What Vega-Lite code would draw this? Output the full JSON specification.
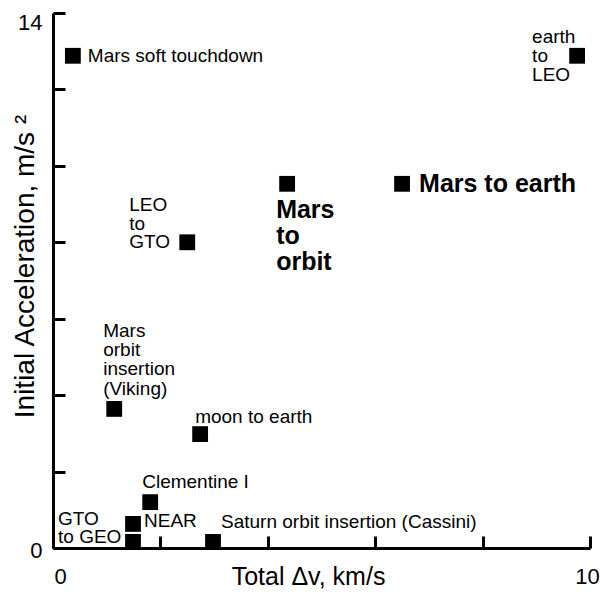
{
  "$schema": "https://vega.github.io/schema/vega-lite/v6.json",
  "width": 537,
  "height": 535,
  "autosize": "none",
  "padding": {"left": 53, "top": 13, "right": 20, "bottom": 45},
  "config": {"view": {"stroke": null}, "font": "Liberation Sans"},
  "data": {"values": [
    {"id": "mst", "dv": 0.37, "accel": 12.88, "label": "Mars soft touchdown"},
    {"id": "e2l", "dv": 9.76, "accel": 12.88, "label": "earth\nto\nLEO"},
    {"id": "m2e", "dv": 6.5, "accel": 9.53, "label": "Mars to earth"},
    {"id": "m2o", "dv": 4.36, "accel": 9.53, "label": "Mars\nto\norbit"},
    {"id": "l2g", "dv": 2.5, "accel": 8.0, "label": "LEO\nto\nGTO"},
    {"id": "vik", "dv": 1.14, "accel": 3.64, "label": "Mars\norbit\ninsertion\n(Viking)"},
    {"id": "moon", "dv": 2.74, "accel": 2.98, "label": "moon to earth"},
    {"id": "clem", "dv": 1.81, "accel": 1.2, "label": "Clementine I"},
    {"id": "near", "dv": 1.49, "accel": 0.63, "label": "NEAR"},
    {"id": "g2g", "dv": 1.49, "accel": 0.16, "label": "GTO\nto GEO"},
    {"id": "sat", "dv": 2.98, "accel": 0.16, "label": "Saturn orbit insertion (Cassini)"}
  ]},
  "encoding": {
    "x": {"field": "dv", "type": "quantitative", "scale": {"domain": [0, 10], "nice": false, "zero": false},
      "axis": {"values": [0, 2, 4, 6, 8, 10], "labelExpr": "datum.value == 0 || datum.value == 10 ? datum.label : ''",
        "grid": false, "domainWidth": 3, "domainColor": "black", "tickWidth": 3, "tickColor": "black", "tickSize": -12,
        "labelFontSize": 22, "labelColor": "black", "labelFont": "Liberation Sans", "labelBaseline": "alphabetic",
        "labelPadding": 47, "labelFlush": false, "labelOverlap": false,
        "labelOffset": {"condition": {"test": "datum.value == 0", "value": 7}, "value": -3},
        "title": "Total Δv, km/s", "titleFontSize": 25, "titleFontWeight": "normal", "titleColor": "black", "titleFont": "Liberation Sans",
        "titleX": 255, "titleY": 36, "titleBaseline": "alphabetic", "titleAlign": "center"}},
    "y": {"field": "accel", "type": "quantitative", "scale": {"domain": [0, 14], "nice": false, "zero": false},
      "axis": {"values": [0, 2, 4, 6, 8, 10, 12, 14], "labelExpr": "datum.value == 0 || datum.value == 14 ? datum.label : ''",
        "grid": false, "domainWidth": 3, "domainColor": "black", "tickWidth": 3, "tickColor": "black", "tickSize": -12,
        "labelFontSize": 22, "labelColor": "black", "labelFont": "Liberation Sans", "labelBaseline": "middle", "labelAlign": "right",
        "labelPadding": 23, "labelFlush": false, "labelOverlap": false,
        "labelOffset": {"condition": {"test": "datum.value == 14", "value": 9}, "value": 2},
        "title": "Initial Acceleration, m/s ²", "titleFontSize": 28, "titleFontWeight": "normal", "titleColor": "black", "titleFont": "Liberation Sans",
        "titleX": -20, "titleY": 253, "titleBaseline": "alphabetic", "titleAlign": "center", "titleAngle": -90}}
  },
  "layer": [
    {"mark": {"type": "square", "filled": true, "color": "black", "opacity": 1, "size": 250}},
    {"transform": [{"filter": "datum.id == 'mst'"}], "mark": {"type": "text", "align": "left", "baseline": "middle", "dx": 15, "dy": 0, "fontSize": 19, "color": "black"}, "encoding": {"text": {"field": "label"}}},
    {"transform": [{"filter": "datum.id == 'e2l'"}], "mark": {"type": "text", "align": "left", "baseline": "middle", "dx": -45, "dy": -19, "fontSize": 19, "lineBreak": "\n", "lineHeight": 19, "color": "black"}, "encoding": {"text": {"field": "label"}}},
    {"transform": [{"filter": "datum.id == 'm2e'"}], "mark": {"type": "text", "align": "left", "baseline": "middle", "dx": 17, "dy": 0, "fontSize": 25, "fontWeight": "bold", "color": "black"}, "encoding": {"text": {"field": "label"}}},
    {"transform": [{"filter": "datum.id == 'm2o'"}], "mark": {"type": "text", "align": "left", "baseline": "middle", "dx": -11, "dy": 26, "fontSize": 25, "fontWeight": "bold", "lineBreak": "\n", "lineHeight": 26, "color": "black"}, "encoding": {"text": {"field": "label"}}},
    {"transform": [{"filter": "datum.id == 'l2g'"}], "mark": {"type": "text", "align": "left", "baseline": "middle", "dx": -58, "dy": -37, "fontSize": 19, "lineBreak": "\n", "lineHeight": 18.5, "color": "black"}, "encoding": {"text": {"field": "label"}}},
    {"transform": [{"filter": "datum.id == 'vik'"}], "mark": {"type": "text", "align": "left", "baseline": "middle", "dx": -11, "dy": -78, "fontSize": 19, "lineBreak": "\n", "lineHeight": 19.3, "color": "black"}, "encoding": {"text": {"field": "label"}}},
    {"transform": [{"filter": "datum.id == 'moon'"}], "mark": {"type": "text", "align": "left", "baseline": "middle", "dx": -5, "dy": -17, "fontSize": 19, "color": "black"}, "encoding": {"text": {"field": "label"}}},
    {"transform": [{"filter": "datum.id == 'clem'"}], "mark": {"type": "text", "align": "left", "baseline": "middle", "dx": -8, "dy": -20, "fontSize": 19, "color": "black"}, "encoding": {"text": {"field": "label"}}},
    {"transform": [{"filter": "datum.id == 'near'"}], "mark": {"type": "text", "align": "left", "baseline": "middle", "dx": 11, "dy": -3, "fontSize": 19, "color": "black"}, "encoding": {"text": {"field": "label"}}},
    {"transform": [{"filter": "datum.id == 'g2g'"}], "mark": {"type": "text", "align": "left", "baseline": "middle", "dx": -75, "dy": -22.5, "fontSize": 19, "lineBreak": "\n", "lineHeight": 18, "color": "black"}, "encoding": {"text": {"field": "label"}}},
    {"transform": [{"filter": "datum.id == 'sat'"}], "mark": {"type": "text", "align": "left", "baseline": "middle", "dx": 8, "dy": -20, "fontSize": 19, "color": "black"}, "encoding": {"text": {"field": "label"}}}
  ]
}
